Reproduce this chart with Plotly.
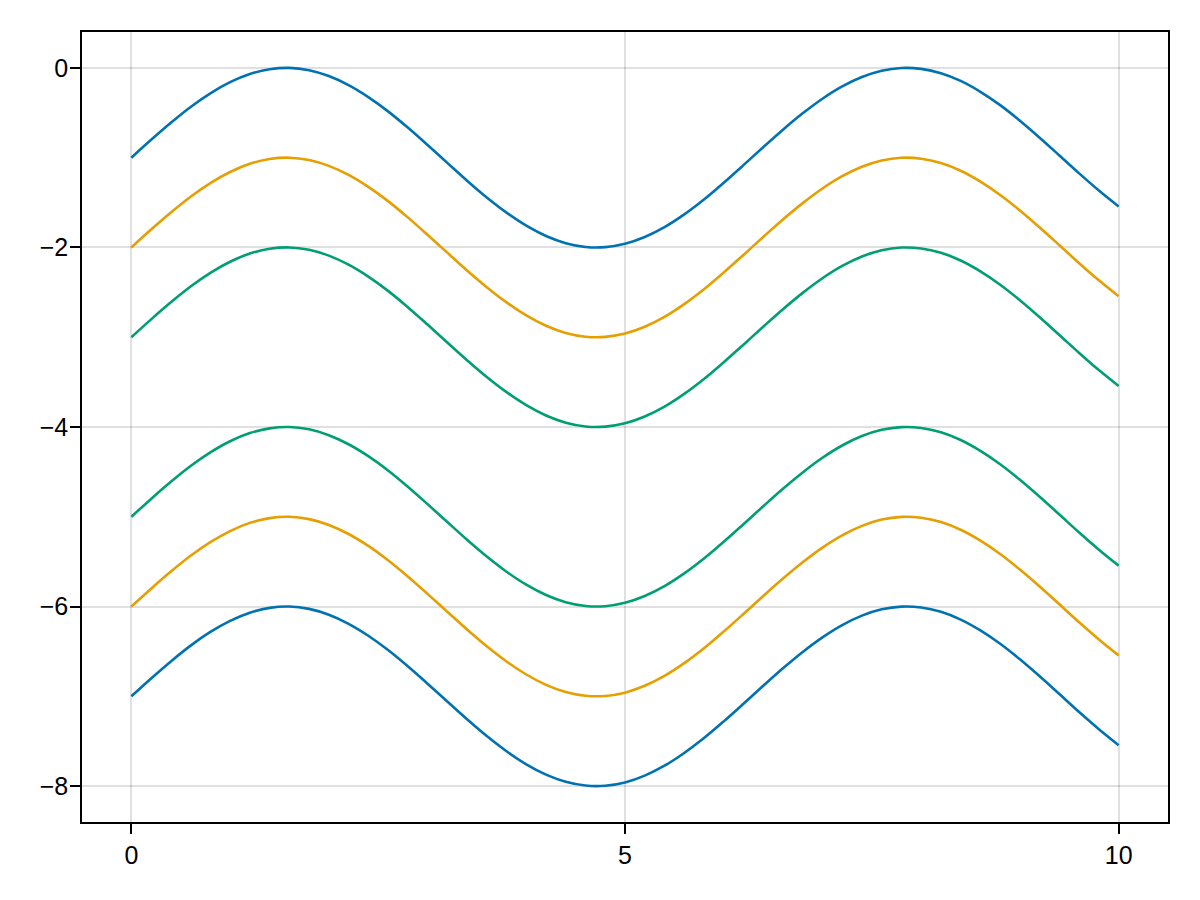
import plotly.graph_objects as go

x_vals = [round(i * 0.2, 1) for i in range(51)]
base_wave = [0.000, 0.199, 0.389, 0.565, 0.717, 0.841, 0.932, 0.985, 1.000, 0.974,
             0.909, 0.808, 0.675, 0.516, 0.335, 0.141, -0.058, -0.256, -0.443, -0.612,
             -0.757, -0.872, -0.952, -0.994, -0.996, -0.959, -0.883, -0.773, -0.631, -0.465,
             -0.279, -0.083, 0.117, 0.312, 0.494, 0.657, 0.794, 0.899, 0.969, 0.999,
             0.989, 0.941, 0.855, 0.734, 0.585, 0.412, 0.223, 0.025, -0.175, -0.366,
             -0.544]
offsets = [-1, -2, -3, -5, -6, -7]
colors = ["#0072B2", "#E69F00", "#009E73", "#009E73", "#E69F00", "#0072B2"]
x_ticks = [0, 5, 10]
x_tick_labels = ["0", "5", "10"]
y_ticks = [0, -2, -4, -6, -8]
y_tick_labels = ["0", "\u22122", "\u22124", "\u22126", "\u22128"]

fig = go.Figure()
for off, col in zip(offsets, colors):
    fig.add_trace(go.Scatter(x=x_vals, y=[v + off for v in base_wave], mode="lines",
                             line=dict(color=col, width=2.6, shape="spline"),
                             showlegend=False))

axis_common = dict(showline=True, linecolor="black", linewidth=1.5, mirror=True,
                   showgrid=True, gridcolor="rgba(0,0,0,0.12)", gridwidth=1.5,
                   zeroline=False, ticks="outside", ticklen=10, tickwidth=1.5,
                   tickcolor="black", tickfont=dict(family="Liberation Sans", size=25, color="black"))
fig.update_xaxes(range=[-0.5, 10.5], tickvals=x_ticks, ticktext=x_tick_labels,
                 ticklabelstandoff=0, **axis_common)
fig.update_yaxes(range=[-8.4, 0.4], tickvals=y_ticks, ticktext=y_tick_labels,
                 ticklabelstandoff=-3, **axis_common)
fig.update_layout(width=1192, height=892, margin=dict(l=74, r=32, t=24, b=78),
                  paper_bgcolor="white", plot_bgcolor="white")
fig.write_html("out.html")
